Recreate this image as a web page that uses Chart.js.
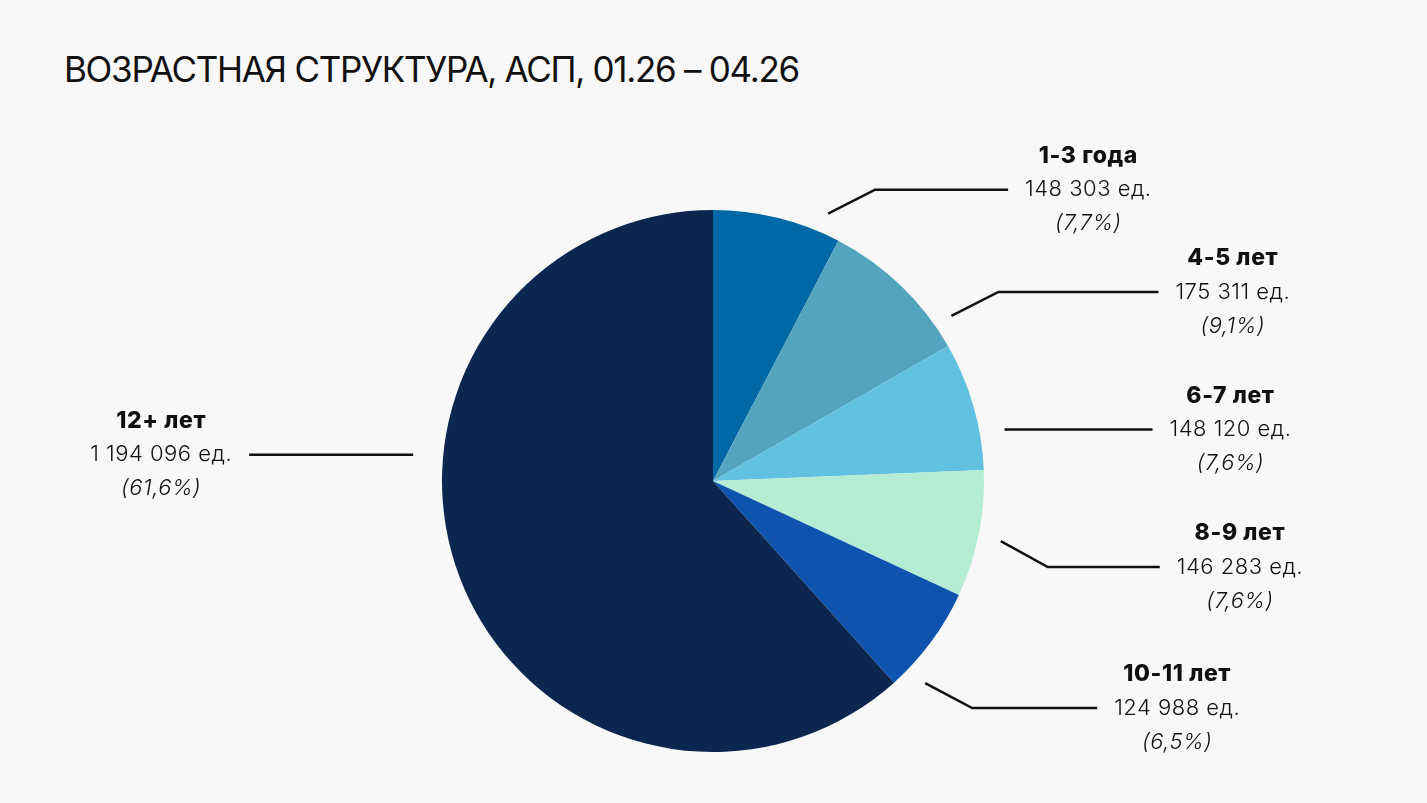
<html>
<head>
<meta charset="utf-8">
<script src="https://cdn.jsdelivr.net/npm/chart.js"></script>
<style>
  html, body { margin: 0; padding: 0; background: #f8f8f8; }
  #wrap { position: relative; width: 1427px; height: 803px; }
  #title { position: absolute; left: 64px; top: 48px; margin: 0;
           font-family: Inter, sans-serif; font-weight: 400; font-size: 35px;
           color: #111; white-space: nowrap; letter-spacing: -1.3px; }
  canvas { position: absolute; left: 0; top: 0; }
</style>
</head>
<body>
<div id="wrap">
  <h1 id="title">ВОЗРАСТНАЯ СТРУКТУРА, АСП, 01.26 – 04.26</h1>
  <canvas id="pie" width="1427" height="803"></canvas>
</div>
<script>
// data
var ages = ['1-3 года', '4-5 лет', '6-7 лет', '8-9 лет', '10-11 лет', '12+ лет'];
var units = [148303, 175311, 148120, 146283, 124988, 1194096];
var colors = ['#0068a4', '#53a5be', '#62c0e0', '#b5ecd4', '#0e53ae', '#0b264f'];

// where the leader lines go (angle from top, clockwise)
var leaders = [
  { angle: 23.3, dist: 20, dy: -24, len: 133 },
  { angle: 55.3, dist: 19, dy: -24, len: 160 },
  { angle: 80,   dist: 25, dy: 0,   len: 148 },
  { angle: 101.8, dist: 23, dy: 26, len: 112 },
  { angle: 133.6, dist: 22, dy: 25, len: 125 },
  { angle: 275,  dist: 30, dy: 0,   len: 164 }
];

var total = units.reduce(function(a, b) { return a + b; }, 0);

function fmt(n) {
  return String(n).replace(/\B(?=(\d{3})+(?!\d))/g, ' ');
}
function pct(n) {
  return '(' + (n / total * 100).toFixed(1).replace('.', ',') + '%)';
}

var labelPlugin = {
  id: 'leaderLabels',
  afterDraw: function(chart) {
    var ctx = chart.ctx;
    var arcs = chart.getDatasetMeta(0).data;
    var cx = arcs[0].x, cy = arcs[0].y, r = arcs[0].outerRadius;
    ctx.save();
    ctx.strokeStyle = '#111';
    ctx.lineWidth = 2.5;
    ctx.fillStyle = '#111';
    ctx.textBaseline = 'middle';
    ctx.textAlign = 'center';
    for (var i = 0; i < ages.length; i++) {
      var L = leaders[i];
      var a = L.angle * Math.PI / 180;
      var sx = cx + (r + L.dist) * Math.sin(a);
      var sy = cy - (r + L.dist) * Math.cos(a);
      var right = Math.sin(a) > 0;
      var dir = right ? 1 : -1;
      var ex = sx, ey = sy;
      ctx.beginPath();
      ctx.moveTo(sx, sy);
      if (L.dy !== 0) {
        ex = sx + dir * 47; ey = sy + L.dy;
        ctx.lineTo(ex, ey);
      }
      ex = ex + dir * L.len;
      ctx.lineTo(ex, ey);
      ctx.stroke();

      var val = fmt(units[i]) + ' ед.';
      ctx.letterSpacing = '0.5px';
      ctx.font = '300 22px Inter, sans-serif';
      var w = ctx.measureText(val).width;
      var tx = right ? ex + 17 + w / 2 : ex - 17 - w / 2;
      ctx.fillText(val, tx, ey);
      ctx.letterSpacing = '0.6px';
      ctx.font = '800 23px Inter, sans-serif';
      ctx.fillText(ages[i], tx, ey - 34);
      ctx.letterSpacing = '0.5px';
      ctx.font = 'italic 300 22px Inter, sans-serif';
      ctx.fillText(pct(units[i]), tx, ey + 34);
    }
    ctx.restore();
  }
};

new Chart(document.getElementById('pie'), {
  type: 'pie',
  data: {
    labels: ages,
    datasets: [{
      data: units,
      backgroundColor: colors,
      borderWidth: 0
    }]
  },
  options: {
    responsive: false,
    animation: false,
    layout: { padding: { top: 210, bottom: 51, left: 0, right: 1 } },
    plugins: {
      legend: { display: false },
      tooltip: { enabled: false }
    }
  },
  plugins: [labelPlugin]
});
</script>
</body>
</html>
